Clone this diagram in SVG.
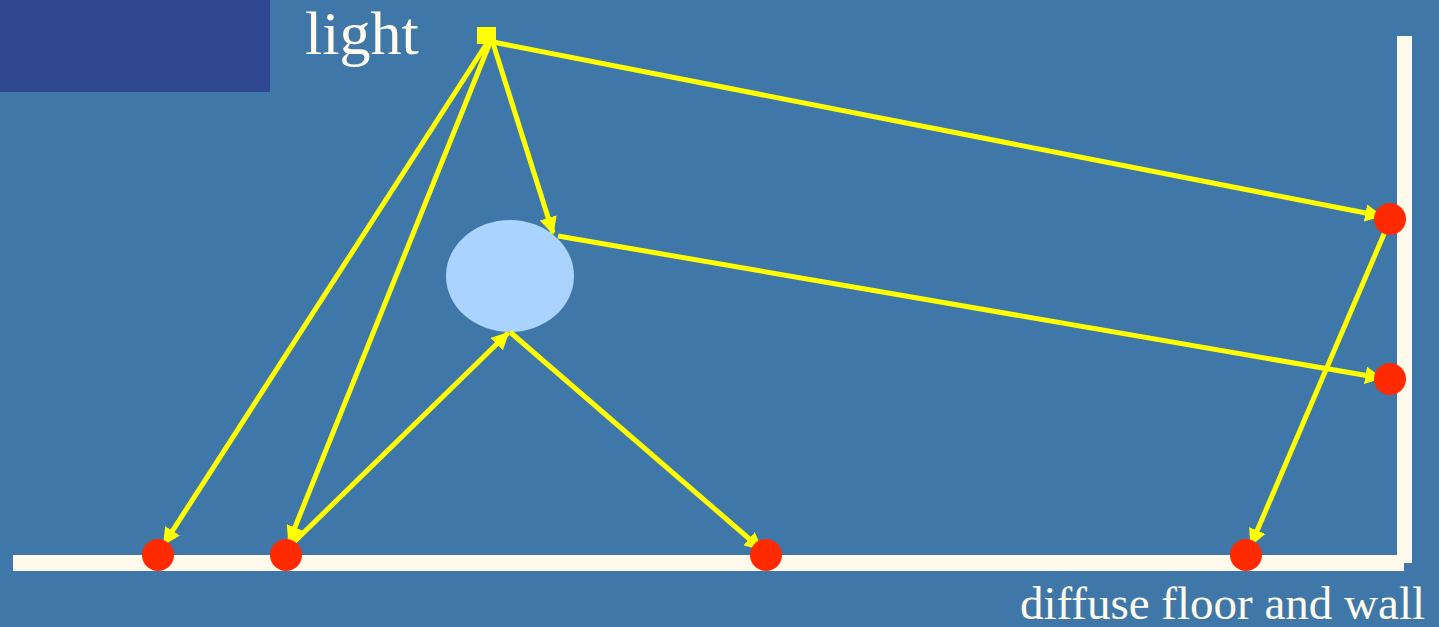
<svg xmlns="http://www.w3.org/2000/svg" width="1439" height="627" viewBox="0 0 1439 627">
<defs>
<marker id="ah" viewBox="0 0 10 10" refX="9" refY="5" markerWidth="3.5" markerHeight="3.5" orient="auto" markerUnits="strokeWidth">
<path d="M0,0 L10,5 L0,10 z" fill="#ffff00"/>
</marker>
</defs>
<style>
.ray{stroke:#ffff00;stroke-width:5;fill:none;marker-end:url(#ah)}
.dot{fill:#ff2a00}
.surf{fill:#fffbec}
.lbl{font-family:"Liberation Serif",serif;fill:#fffbec}
</style>
<rect width="1439" height="627" fill="#3f78a8"/>
<rect x="0" y="0" width="270" height="92" fill="#2f4690"/>
<g id="surfaces">
<rect class="surf" x="13" y="555" width="1391" height="16"/>
<rect class="surf" x="1397" y="36" width="15" height="527"/>
<rect class="surf" x="1397" y="555" width="7" height="16"/>
</g>
<g id="object"><ellipse cx="510" cy="276" rx="64" ry="56" fill="#aad4ff"/></g>
<g id="connectors">
<line class="ray" x1="489" y1="40" x2="164" y2="544"/>
<line class="ray" x1="491" y1="40" x2="289" y2="542"/>
<line class="ray" x1="492" y1="40" x2="553" y2="233"/>
<line class="ray" x1="493" y1="42" x2="1381" y2="216"/>
<line class="ray" x1="558" y1="236" x2="1381" y2="378"/>
<line class="ray" x1="291" y1="545" x2="508" y2="333"/>
<line class="ray" x1="510" y1="332" x2="761" y2="549"/>
<line class="ray" x1="1387" y1="227" x2="1251" y2="545"/>
</g>
<g id="light"><rect x="477" y="27" width="19" height="17" fill="#ffff00"/></g>
<g id="points">
<circle class="dot" cx="158" cy="555" r="16"/>
<circle class="dot" cx="286" cy="555" r="16"/>
<circle class="dot" cx="766" cy="555" r="16"/>
<circle class="dot" cx="1246" cy="555" r="16"/>
<circle class="dot" cx="1390" cy="219" r="16"/>
<circle class="dot" cx="1390" cy="379" r="16"/>
</g>
<text class="lbl" x="305" y="54" font-size="62">light</text>
<text class="lbl" x="1425" y="619" font-size="47" text-anchor="end">diffuse floor and wall</text>
</svg>
